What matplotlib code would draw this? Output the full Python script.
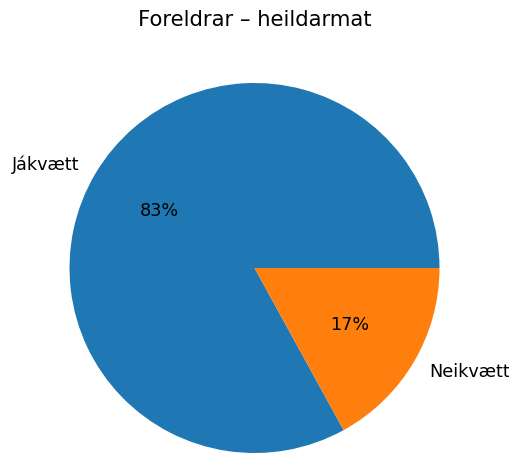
import matplotlib
matplotlib.use("Agg")
import matplotlib.pyplot as plt

labels = ["Jákvætt", "Neikvætt"]
values = [83, 17]
title = "Foreldrar – heildarmat"

W, H = 510, 454
fig = plt.figure(figsize=(W / 100, H / 100), dpi=100)
cx, cy, r = 254.5, 268.0, 185.0
size = 2.5 * r
ax = fig.add_axes([(cx - size / 2) / W, (H - cy - size / 2) / H, size / W, size / H])
ax.pie(values, labels=labels, autopct="%1.0f%%", colors=["#1f77b4", "#ff7f0e"],
       textprops={"fontsize": 12.7})
ax.set_xlim(-1.25, 1.25)
ax.set_ylim(-1.25, 1.25)
ax.set_aspect("equal")
fig.text(0.5, 1 - 20 / H, title, fontsize=15.2, ha="center", va="center")
fig.savefig("out.png", dpi=100)
